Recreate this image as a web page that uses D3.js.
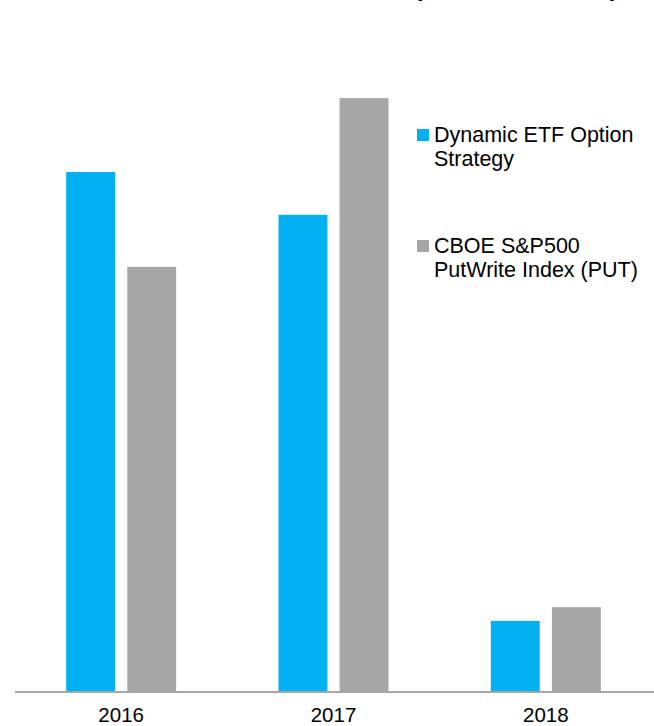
<!DOCTYPE html>
<html>
<head>
<meta charset="utf-8">
<script src="https://cdn.jsdelivr.net/npm/d3@7"></script>
<style>
  html, body { margin: 0; padding: 0; background: #fff; }
  svg { display: block; font-family: "Liberation Sans", Arial, sans-serif; }
</style>
</head>
<body>
<svg id="chart" width="654" height="726"></svg>
<script>
// Calendar-year returns (%)
const years = ["2016", "2017", "2018"];
const seriesNames = ["Dynamic ETF Option Strategy", "CBOE S&P500 PutWrite Index (PUT)"];
const dynamicReturns = [9.47, 8.69, 1.28];
const putReturns = [7.74, 10.82, 1.53];
const legendLines = [["Dynamic ETF Option", "Strategy"], ["CBOE S&P500", "PutWrite Index (PUT)"]];
const titleText = "Annual Returns (2016 \u2013 2018 YTD)";

const colors = ["#00B0F0", "#A6A6A6"];
const W = 654, H = 726;
const baseY = 691;

const svg = d3.select("#chart");

const rows = years.map((y, i) => ({ year: y, values: [dynamicReturns[i], putReturns[i]] }));

const x0 = d3.scaleBand().domain(years).range([15, 652]).padding(0);
const groupW = 110;
const x1 = d3.scaleBand().domain(seriesNames).range([0, groupW]).paddingInner(0.2);
const y = d3.scaleLinear().domain([0, 12]).range([baseY, baseY - 12 * 54.8]);

// Title (sits mostly above the visible area)
svg.append("text")
  .attr("x", 618).attr("y", -4)
  .attr("text-anchor", "end")
  .attr("font-size", 24).attr("font-weight", "bold")
  .attr("fill", "#000")
  .text(titleText);

// Bars
const groups = svg.append("g").selectAll("g").data(rows).join("g")
  .attr("transform", d => `translate(${x0(d.year) + (x0.bandwidth() - groupW) / 2},0)`);

groups.selectAll("rect")
  .data(d => d.values.map((v, k) => ({ key: seriesNames[k], value: v, k })))
  .join("rect")
  .attr("x", d => x1(d.key))
  .attr("width", x1.bandwidth())
  .attr("y", d => y(d.value))
  .attr("height", d => baseY - y(d.value))
  .attr("fill", d => colors[d.k]);

// Category axis
const xAxis = d3.axisBottom(x0).tickSize(0).tickPadding(0);
const axisG = svg.append("g").attr("transform", `translate(0,${baseY})`).call(xAxis);
axisG.select(".domain").remove();
axisG.selectAll("text")
  .attr("dy", null)
  .attr("y", 31)
  .attr("font-size", 20.5)
  .attr("font-family", "Liberation Sans, Arial, sans-serif")
  .attr("fill", "#000");
svg.append("line")
  .attr("x1", 15).attr("x2", W)
  .attr("y1", baseY + 1).attr("y2", baseY + 1)
  .attr("stroke", "#A6A6A6").attr("stroke-width", 2);

// Legend
const legendTop = [142, 253];
const legend = svg.append("g").selectAll("g").data(seriesNames).join("g");
legend.append("rect")
  .attr("x", 417)
  .attr("y", (d, i) => legendTop[i] - 13)
  .attr("width", 12).attr("height", 12)
  .attr("fill", (d, i) => colors[i]);
legend.append("text")
  .attr("x", 434)
  .attr("y", (d, i) => legendTop[i])
  .attr("font-size", 21.5)
  .attr("fill", "#000")
  .selectAll("tspan")
  .data((d, i) => legendLines[i])
  .join("tspan")
  .attr("x", 434)
  .attr("dy", (t, j) => j === 0 ? 0 : 24)
  .text(t => t);
</script>
</body>
</html>
